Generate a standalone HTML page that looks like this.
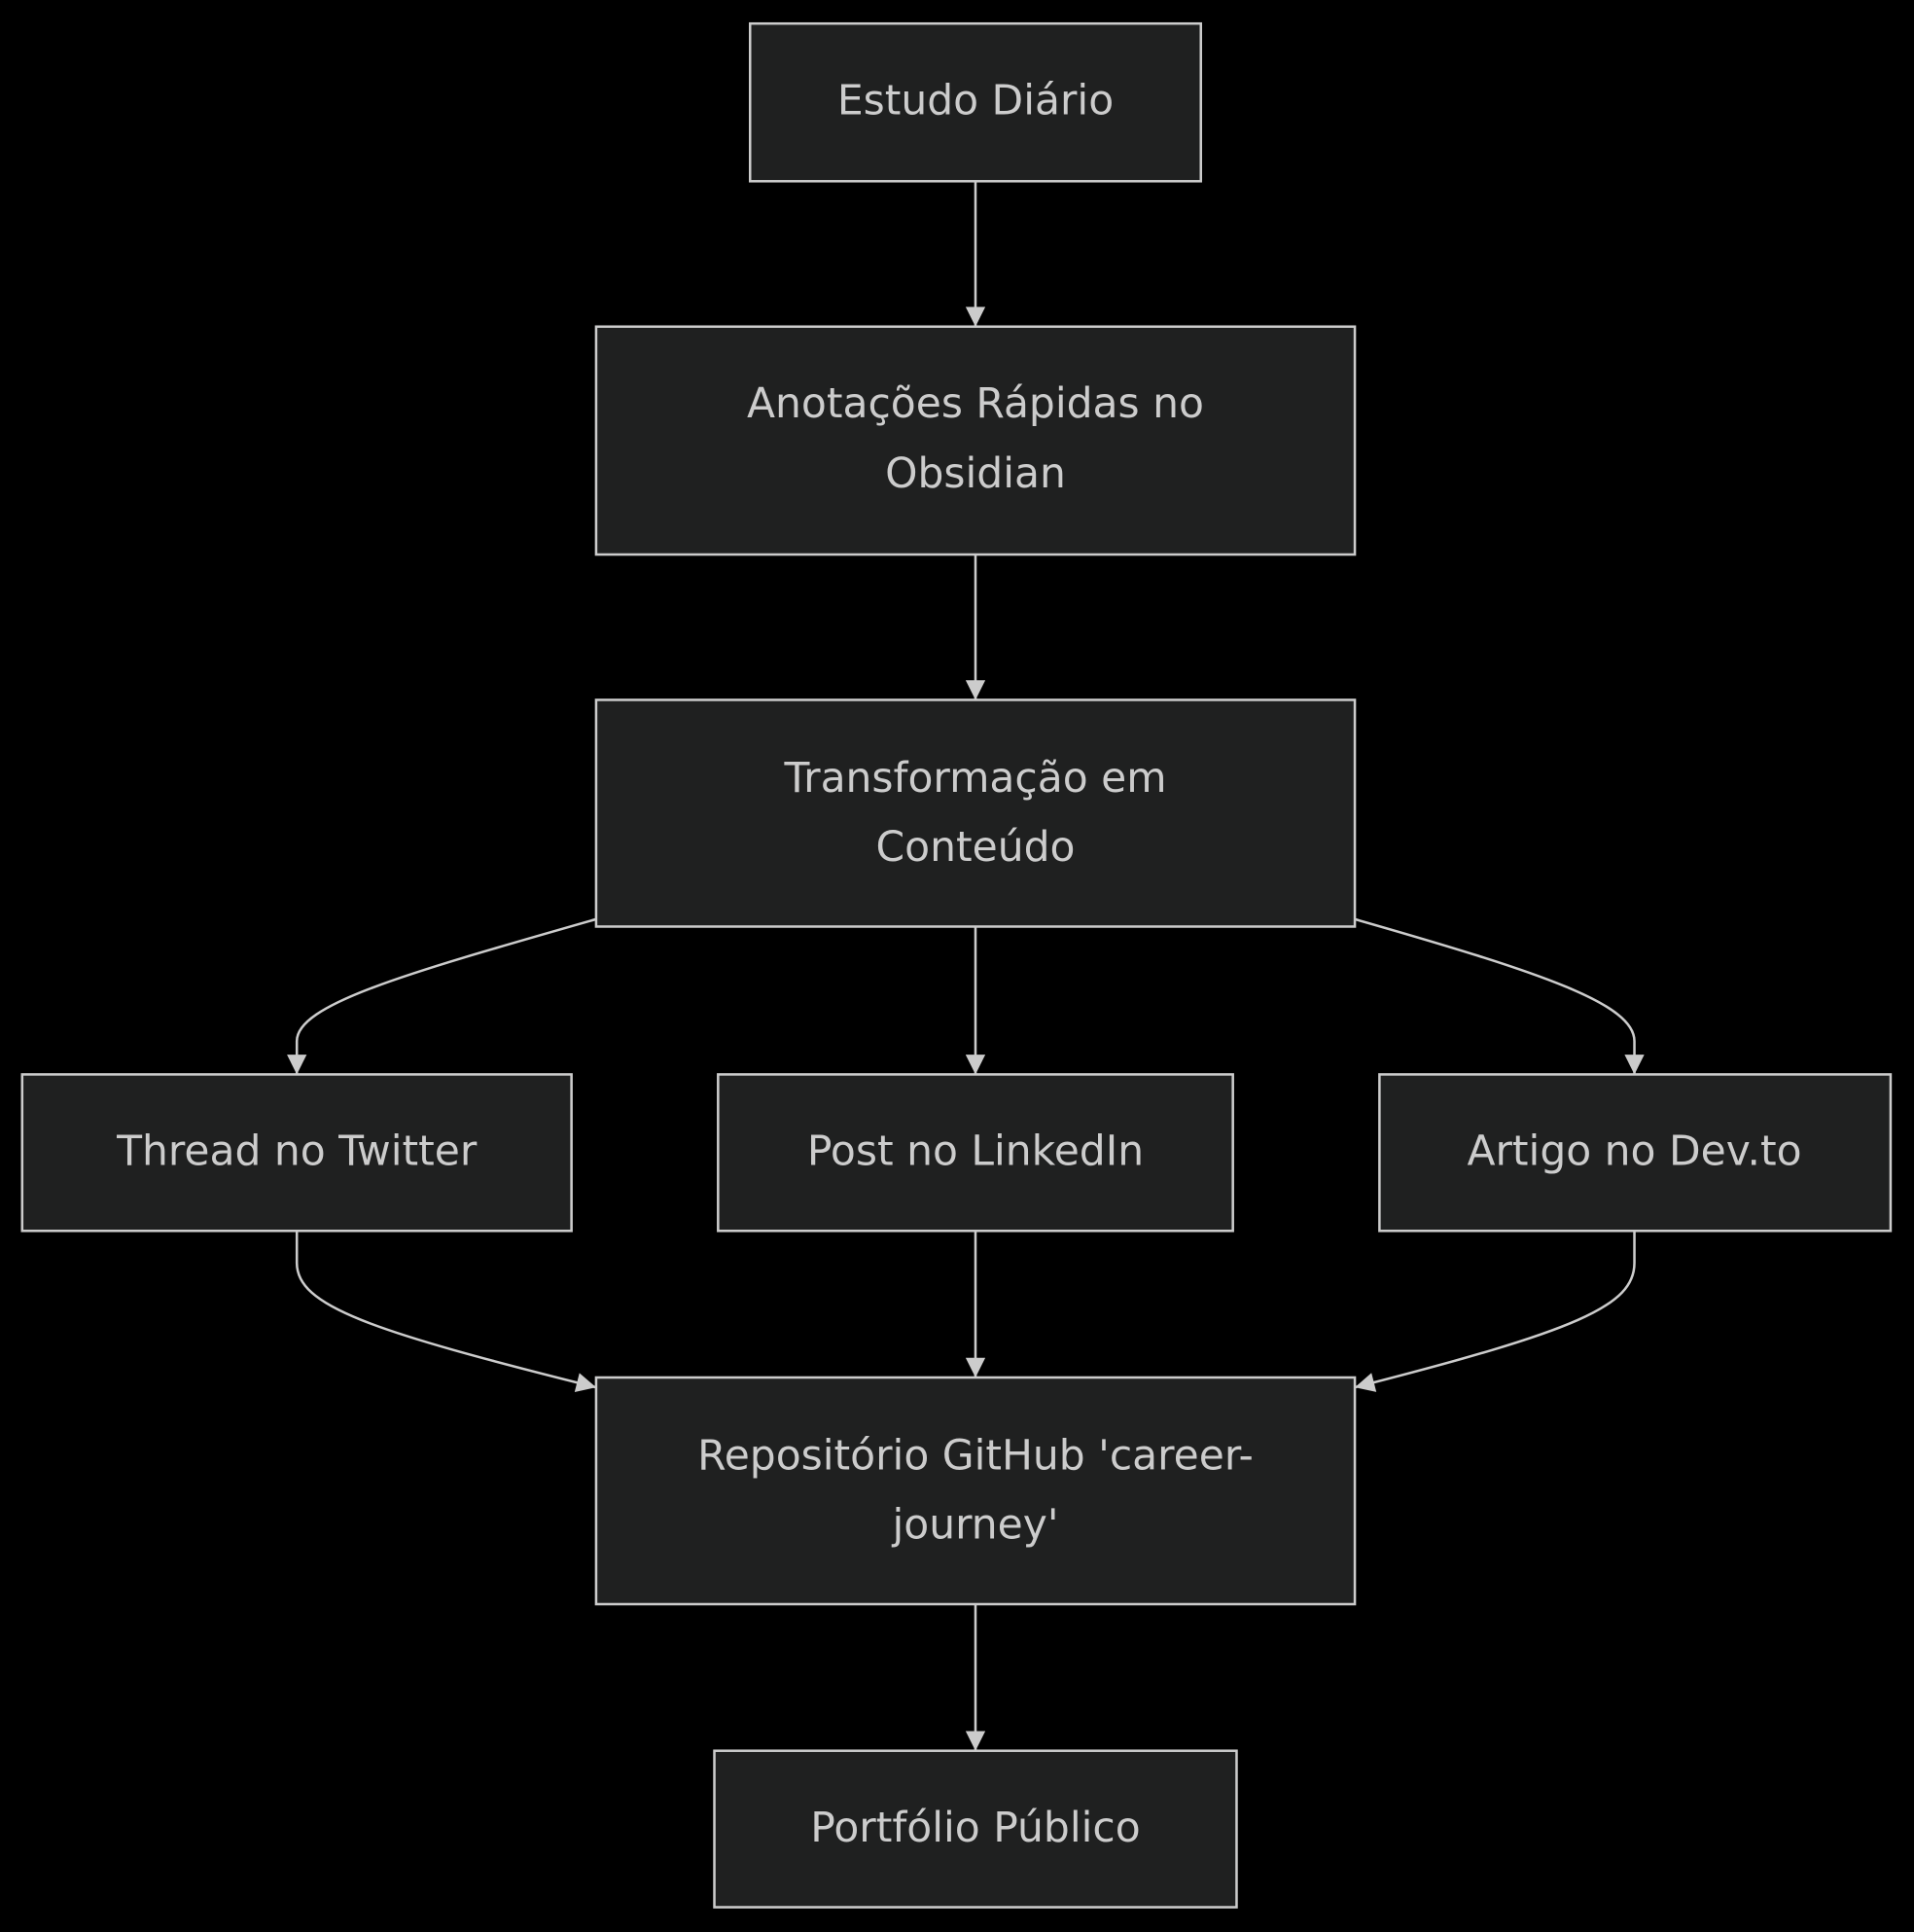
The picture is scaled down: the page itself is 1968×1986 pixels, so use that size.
<!DOCTYPE html>
<html><head><meta charset="utf-8"><style>
html,body{margin:0;padding:0;background:#000;}
svg{display:block;}
text{font-family:"DejaVu Sans","Liberation Sans",sans-serif;font-size:33.5px;fill:#cccccc;text-anchor:middle;dominant-baseline:central;}
rect{fill:#1f2020;stroke:#cccccc;stroke-width:2;}
path.e{fill:none;stroke:#cccccc;stroke-width:2;}
</style></head><body>
<svg width="1968" height="1986" viewBox="0 0 1554 1568" xmlns="http://www.w3.org/2000/svg">
<defs>
<marker id="b" viewBox="0 0 10 10" refX="10" refY="5" markerWidth="18" markerHeight="16" markerUnits="userSpaceOnUse" orient="auto"><path d="M0,0 L10,5 L0,10 z" fill="#cccccc"/></marker></defs>
<rect width="1554" height="1568" style="fill:#000;stroke:none"/>
<path class="e" d="M792,147 L792,265" marker-end="url(#b)"/>
<path class="e" d="M792,450 L792,568" marker-end="url(#b)"/>
<path class="e" d="M792,752 L792,872" marker-end="url(#b)"/>
<path class="e" d="M792,999 L792,1118" marker-end="url(#b)"/>
<path class="e" d="M792,1302 L792,1421" marker-end="url(#b)"/>
<path class="e" d="M484,746 C330,790 241,815 241,845 L241,872" marker-end="url(#b)"/>
<path class="e" d="M1100,746 C1254,790 1327,815 1327,845 L1327,872" marker-end="url(#b)"/>
<path class="e" d="M241,999 L241,1025 C241,1060 300,1080 484,1126" marker-end="url(#b)"/>
<path class="e" d="M1327,999 L1327,1025 C1327,1060 1280,1080 1100,1126" marker-end="url(#b)"/>
<rect x="609" y="19" width="366" height="128"/>
<text x="792" y="82">Estudo Diário</text>
<rect x="484" y="265" width="616" height="185"/>
<text x="792" y="328">Anotações Rápidas no</text>
<text x="792" y="385">Obsidian</text>
<rect x="484" y="568" width="616" height="184"/>
<text x="792" y="632">Transformação em</text>
<text x="792" y="688">Conteúdo</text>
<rect x="18" y="872" width="446" height="127"/>
<text x="241" y="935">Thread no Twitter</text>
<rect x="583" y="872" width="418" height="127"/>
<text x="792" y="935">Post no LinkedIn</text>
<rect x="1120" y="872" width="415" height="127"/>
<text x="1327" y="935">Artigo no Dev.to</text>
<rect x="484" y="1118" width="616" height="184"/>
<text x="792" y="1182">Repositório GitHub 'career-</text>
<text x="792" y="1238">journey'</text>
<rect x="580" y="1421" width="424" height="127"/>
<text x="792" y="1484">Portfólio Público</text>
</svg>
</body></html>
